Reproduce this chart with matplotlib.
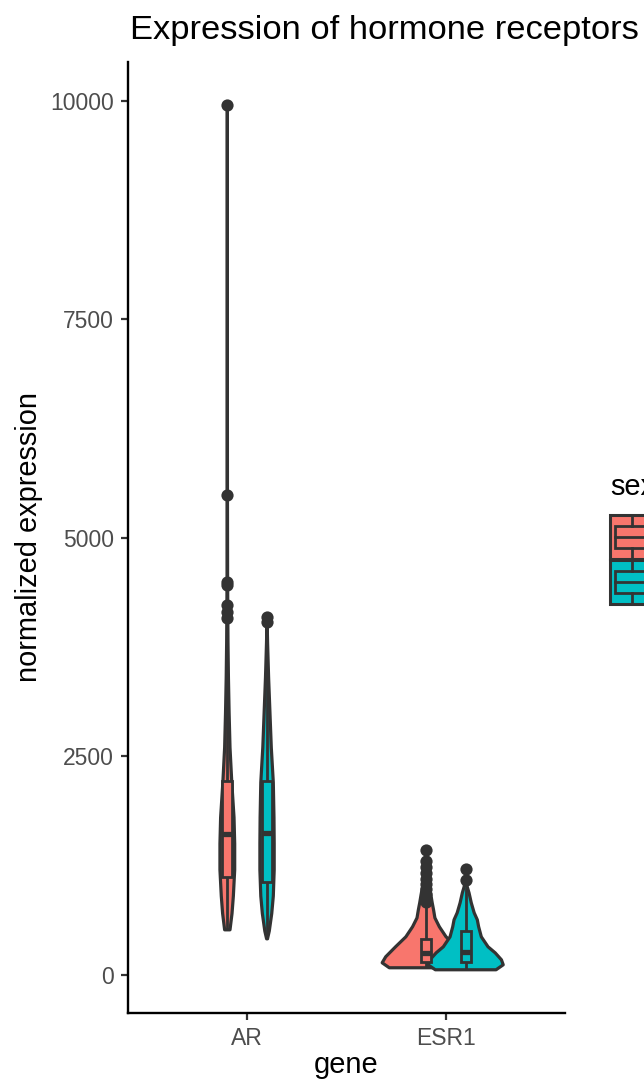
import matplotlib
matplotlib.use("Agg")
import matplotlib.pyplot as plt
from matplotlib.patches import Polygon, Rectangle

plt.rcParams["font.family"] = ["Liberation Sans", "DejaVu Sans"]

# -- Data ---------------------------------------------------------------------
genes = ["AR", "ESR1"]
sexes = ["F", "M"]
fills = {"F": "#F8766D", "M": "#00BFC4"}

# violin outlines: expression level vs relative density (1 = widest violin)
ar_f_y = [514, 700, 900, 1200, 1500, 1800, 2200, 2600, 3000, 3400, 3800, 4200, 4600, 5500, 7000, 9950]
ar_f_dens = [0.06, 0.105, 0.135, 0.165, 0.165, 0.15, 0.10, 0.06, 0.04, 0.025, 0.015, 0.01, 0.006, 0.003, 0.001, 0]
ar_m_y = [411, 500, 700, 900, 1200, 1500, 1800, 2200, 2600, 3000, 3400, 3800, 4090]
ar_m_dens = [0.01, 0.05, 0.105, 0.14, 0.16, 0.16, 0.155, 0.14, 0.095, 0.065, 0.035, 0.012, 0]
esr1_f_y = [80, 137, 206, 320, 434, 549, 651, 743, 823, 914, 1000, 1100, 1200, 1300, 1430]
esr1_f_dens = [0.82, 0.98, 0.90, 0.68, 0.45, 0.30, 0.20, 0.17, 0.14, 0.11, 0.08, 0.05, 0.03, 0.015, 0]
esr1_m_y = [57, 114, 171, 251, 320, 434, 549, 629, 709, 823, 937, 1006, 1086, 1210]
esr1_m_dens = [0.68, 0.84, 0.80, 0.66, 0.50, 0.35, 0.29, 0.26, 0.19, 0.125, 0.075, 0.035, 0.01, 0]

# box stats: lower whisker, q1, median, q3, upper whisker
ar_f_box = [514, 1120, 1612, 2217, 3800]
ar_m_box = [411, 1063, 1623, 2217, 3900]
esr1_f_box = [80, 149, 251, 411, 790]
esr1_m_box = [57, 149, 263, 503, 1000]

ar_f_out = [9950, 5490, 4500, 4460, 4230, 4150, 4080]
ar_m_out = [4090, 4040]
esr1_f_out = [1430, 1300, 1230, 1160, 1100, 1040, 980, 920, 870, 830]
esr1_m_out = [1210, 1080]

groups = [
    ("AR", "F", ar_f_y, ar_f_dens, ar_f_box, ar_f_out),
    ("AR", "M", ar_m_y, ar_m_dens, ar_m_box, ar_m_out),
    ("ESR1", "F", esr1_f_y, esr1_f_dens, esr1_f_box, esr1_f_out),
    ("ESR1", "M", esr1_m_y, esr1_m_dens, esr1_m_box, esr1_m_out),
]

# -- Layout -------------------------------------------------------------------
W, H = 644, 1084
DPI = 100
LINE = "#333333"
DODGE = 0.1
MAX_HALF = 0.225
BOX_W = 0.05

fig = plt.figure(figsize=(W / DPI, H / DPI), dpi=DPI)
ax = fig.add_axes([128 / W, (H - 1013) / H, (565 - 128) / W, (1013 - 62) / H])

# violins first, boxes on top (same order as the layers would stack)
for gene, sex, ys, dens, box, out in groups:
    xc = genes.index(gene) + 1 + (-DODGE if sex == "F" else DODGE)
    right = [(xc + d * MAX_HALF, y) for y, d in zip(ys, dens)]
    left = [(xc - d * MAX_HALF, y) for y, d in zip(ys, dens)][::-1]
    ax.add_patch(Polygon(right + left, closed=True, facecolor=fills[sex],
                         edgecolor=LINE, lw=2.3, joinstyle="round", zorder=2))

for gene, sex, ys, dens, box, out in groups:
    xc = genes.index(gene) + 1 + (-DODGE if sex == "F" else DODGE)
    lo, q1, med, q3, hi = box
    ax.plot([xc, xc], [q3, hi], color=LINE, lw=2.0, zorder=3, solid_capstyle="butt")
    ax.plot([xc, xc], [lo, q1], color=LINE, lw=2.0, zorder=3, solid_capstyle="butt")
    ax.add_patch(Rectangle((xc - BOX_W / 2, q1), BOX_W, q3 - q1, facecolor=fills[sex],
                           edgecolor=LINE, lw=2.0, zorder=4))
    ax.plot([xc - BOX_W / 2, xc + BOX_W / 2], [med, med], color=LINE, lw=3.8,
            zorder=5, solid_capstyle="butt")
    ax.plot([xc] * len(out), out, "o", color=LINE, ms=8.8, mew=0, zorder=6)

ymin, ymax = 57, 9950
pad = 0.05 * (ymax - ymin)
ax.set_ylim(ymin - pad, ymax + pad)
ax.set_xlim(0.4, 2.6)
ax.set_xticks([1, 2])
ax.set_xticklabels(genes)
ax.set_yticks([0, 2500, 5000, 7500, 10000])
for side in ("top", "right"):
    ax.spines[side].set_visible(False)
for side in ("left", "bottom"):
    ax.spines[side].set_linewidth(1.7)
    ax.spines[side].set_color("black")
ax.tick_params(length=5, width=1.6, color=LINE, labelcolor="#4D4D4D",
               labelsize=16.5, pad=5)

fig.text(130 / W, 1 - 39 / H, "Expression of hormone receptors", fontsize=24.8,
         ha="left", va="baseline")
fig.text(346.5 / W, 1 - 1073 / H, "gene", fontsize=20.9, ha="center", va="baseline")
fig.text(29 / W, 1 - 537.5 / H, "normalized expression", fontsize=20.9,
         rotation=90, ha="center", va="center")

# legend (runs off the right edge of the figure)
fig.text(610 / W, 1 - 495 / H, "sex", fontsize=20.9, ha="left", va="baseline")
lax = fig.add_axes([610 / W, (H - 605) / H, 44 / W, 90 / H])
lax.set_xlim(0, 1)
lax.set_ylim(0, 90)
lax.axis("off")
for i, sex in enumerate(sexes):
    y0 = 90 - (i + 1) * 45 + 1
    kh = 44
    lax.add_patch(Rectangle((0, y0), 1, kh, facecolor=fills[sex], edgecolor=LINE,
                            lw=2.2, clip_on=False))
    lax.plot([0.5, 0.5], [y0, y0 + kh * 0.25], color=LINE, lw=2.0)
    lax.plot([0.5, 0.5], [y0 + kh * 0.75, y0 + kh], color=LINE, lw=2.0)
    lax.add_patch(Rectangle((0.12, y0 + kh * 0.25), 0.76, kh * 0.5, facecolor=fills[sex],
                            edgecolor=LINE, lw=2.0))
    lax.plot([0.12, 0.88], [y0 + kh * 0.5, y0 + kh * 0.5], color=LINE, lw=2.0)

fig.savefig("out.png", dpi=DPI)
